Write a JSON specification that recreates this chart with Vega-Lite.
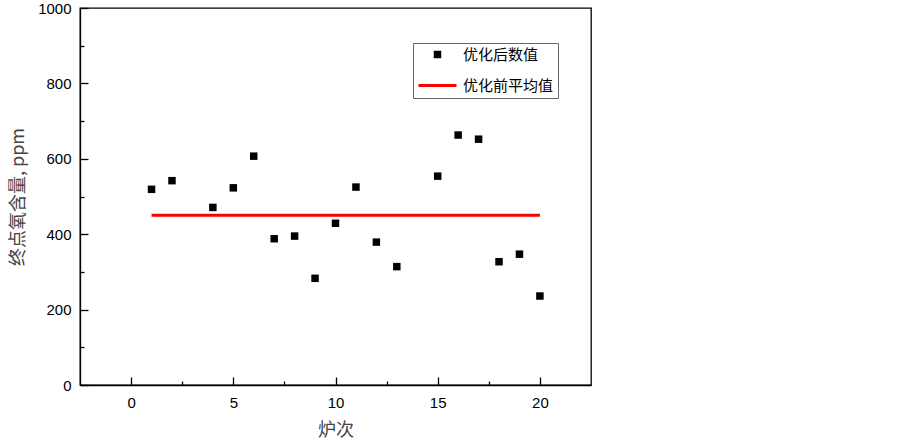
{
  "$schema": "https://vega.github.io/schema/vega-lite/v6.json",
  "autosize": {"type": "none"},
  "width": 511,
  "height": 377,
  "padding": {"left": 80, "top": 8, "right": 312, "bottom": 56},
  "background": "white",
  "config": {
    "view": {"stroke": "black", "strokeWidth": 1.3},
    "axis": {
      "domainColor": "black",
      "domainWidth": 1.3,
      "tickColor": "black",
      "tickWidth": 1.3,
      "grid": false,
      "labelFont": "Liberation Sans",
      "labelFontSize": 15,
      "labelColor": "black",
      "titleFont": "Noto Sans CJK SC",
      "titleFontSize": 18,
      "titleFontWeight": "normal",
      "titleColor": "#444"
    }
  },
  "resolve": {"scale": {"x": "independent", "y": "independent"}},
  "datasets": {
    "pts": [
      {"heat": 1, "o2": 519, "series": "优化后数值"},
      {"heat": 2, "o2": 542, "series": "优化后数值"},
      {"heat": 4, "o2": 471, "series": "优化后数值"},
      {"heat": 5, "o2": 523, "series": "优化后数值"},
      {"heat": 6, "o2": 607, "series": "优化后数值"},
      {"heat": 7, "o2": 388, "series": "优化后数值"},
      {"heat": 8, "o2": 395, "series": "优化后数值"},
      {"heat": 9, "o2": 283, "series": "优化后数值"},
      {"heat": 10, "o2": 429, "series": "优化后数值"},
      {"heat": 11, "o2": 525, "series": "优化后数值"},
      {"heat": 12, "o2": 379, "series": "优化后数值"},
      {"heat": 13, "o2": 314, "series": "优化后数值"},
      {"heat": 15, "o2": 554, "series": "优化后数值"},
      {"heat": 16, "o2": 663, "series": "优化后数值"},
      {"heat": 17, "o2": 652, "series": "优化后数值"},
      {"heat": 18, "o2": 327, "series": "优化后数值"},
      {"heat": 19, "o2": 347, "series": "优化后数值"},
      {"heat": 20, "o2": 236, "series": "优化后数值"}
    ],
    "avg": [
      {"heat": 1, "o2": 450, "series": "优化前平均值"},
      {"heat": 20, "o2": 450, "series": "优化前平均值"}
    ]
  },
  "layer": [
    {
      "data": {"name": "avg"},
      "mark": {"type": "line", "strokeWidth": 3},
      "encoding": {
        "x": {
          "field": "heat", "type": "quantitative",
          "scale": {"domain": [-2.5, 22.5], "nice": false, "zero": false},
          "axis": {
            "title": "炉次",
            "orient": "bottom",
            "values": [0, 5, 10, 15, 20],
            "ticks": false,
            "labelPadding": 10,
            "titlePadding": 11
          }
        },
        "y": {
          "field": "o2", "type": "quantitative",
          "scale": {"domain": [0, 1000], "nice": false},
          "axis": {
            "title": "终点氧含量, ppm",
            "orient": "left",
            "format": "d",
            "values": [0, 200, 400, 600, 800, 1000],
            "ticks": false,
            "labelPadding": 9,
            "titlePadding": 10
          }
        },
        "stroke": {
          "field": "series", "type": "nominal",
          "scale": {"domain": ["优化后数值", "优化前平均值"], "range": ["transparent", "#ff0000"]}
        }
      }
    },
    {
      "data": {"name": "avg"},
      "mark": {"type": "line", "strokeOpacity": 0},
      "encoding": {
        "x": {
          "field": "heat", "type": "quantitative",
          "scale": {"domain": [-2.5, 22.5], "nice": false, "zero": false},
          "axis": {
            "title": null,
            "orient": "top",
            "offset": -377,
            "domain": false,
            "labels": false,
            "values": [2.5, 7.5, 12.5, 17.5],
            "tickSize": 4
          }
        },
        "y": {
          "field": "o2", "type": "quantitative",
          "scale": {"domain": [0, 1000], "nice": false},
          "axis": {
            "title": null,
            "orient": "right",
            "offset": -511,
            "domain": false,
            "labels": false,
            "values": [100, 300, 500, 700, 900],
            "tickSize": 4
          }
        }
      }
    },
    {
      "data": {"name": "pts"},
      "mark": {"type": "point", "filled": true, "opacity": 1, "strokeWidth": 0},
      "encoding": {
        "x": {
          "field": "heat", "type": "quantitative",
          "scale": {"domain": [-2.5, 22.5], "nice": false, "zero": false},
          "axis": {
            "title": null,
            "orient": "top",
            "offset": -377,
            "domain": false,
            "labels": false,
            "values": [0, 5, 10, 15, 20],
            "tickSize": 8
          }
        },
        "y": {
          "field": "o2", "type": "quantitative",
          "scale": {"domain": [0, 1000], "nice": false},
          "axis": {
            "title": null,
            "orient": "right",
            "offset": -511,
            "domain": false,
            "labels": false,
            "values": [0, 200, 400, 600, 800, 1000],
            "tickSize": 8
          }
        },
        "fill": {
          "field": "series", "type": "nominal",
          "scale": {"domain": ["优化后数值", "优化前平均值"], "range": ["black", "#ff0000"]}
        },
        "shape": {
          "field": "series", "type": "nominal",
          "scale": {"domain": ["优化后数值", "优化前平均值"], "range": ["square", "stroke"]}
        },
        "size": {
          "field": "series", "type": "nominal",
          "scale": {"domain": ["优化后数值", "优化前平均值"], "range": [56, 1444]},
          "legend": {
            "title": null,
            "orient": "none",
            "legendX": 333,
            "legendY": 35,
            "strokeColor": "#666",
            "padding": 4,
            "labelFont": "Noto Sans CJK SC",
            "labelFontSize": 15,
            "labelColor": "black",
            "symbolStrokeWidth": 3,
            "rowPadding": -12,
            "labelOffset": 5
          }
        }
      }
    }
  ]
}
